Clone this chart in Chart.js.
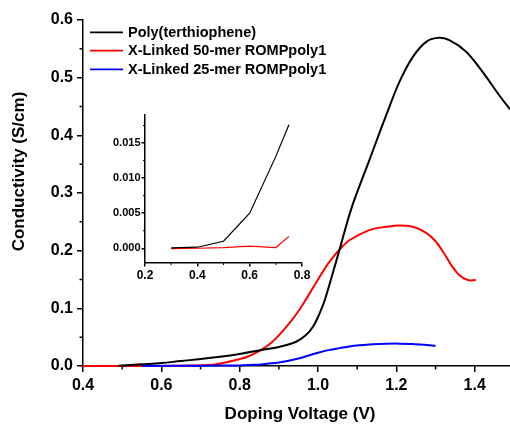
<!DOCTYPE html>
<html>
<head>
<meta charset="utf-8">
<script src="https://cdn.jsdelivr.net/npm/chart.js@4"></script>
<style>
html, body { margin: 0; padding: 0; background: #fff; }
#wrap { position: relative; width: 510px; height: 425px; }
#wrap canvas { position: absolute; left: 0; top: 0; }
</style>
</head>
<body>
<div id="wrap">
    <canvas id="principal" width="510" height="425"></canvas>
    <canvas id="detalhe" width="510" height="425"></canvas>
</div>
<script>
// series (main plot)
const nomes = ["Poly(terthiophene)", "X-Linked 50-mer ROMPpoly1", "X-Linked 25-mer ROMPpoly1"];
const cores = ["#000000", "#ff0000", "#0000ff"];

const polyV = [0.49, 0.55, 0.60, 0.65, 0.70, 0.75, 0.80, 0.855, 0.90, 0.944, 0.97, 0.987, 1.00, 1.017, 1.04, 1.055, 1.085, 1.131, 1.174, 1.208, 1.242, 1.276, 1.305, 1.335, 1.378, 1.42, 1.462, 1.49];
const polyC = [0.0005, 0.003, 0.005, 0.0087, 0.012, 0.016, 0.021, 0.0277, 0.033, 0.042, 0.054, 0.068, 0.085, 0.114, 0.167, 0.202, 0.273, 0.357, 0.435, 0.493, 0.536, 0.562, 0.569, 0.565, 0.545, 0.510, 0.470, 0.445];

const x50V = [0.40, 0.55, 0.65, 0.73, 0.77, 0.80, 0.82, 0.855, 0.88, 0.90, 0.93, 0.953, 0.975, 1.00, 1.02, 1.04, 1.055, 1.08, 1.131, 1.174, 1.208, 1.242, 1.276, 1.301, 1.322, 1.343, 1.36, 1.382, 1.403];
const x50C = [0, 0, 0.0005, 0.002, 0.007, 0.012, 0.016, 0.028, 0.040, 0.053, 0.077, 0.098, 0.122, 0.150, 0.172, 0.190, 0.202, 0.218, 0.2357, 0.2414, 0.2438, 0.2414, 0.231, 0.2155, 0.195, 0.172, 0.158, 0.149, 0.149];

const x25V = [0.55, 0.70, 0.80, 0.84, 0.87, 0.90, 0.95, 1.00, 1.03, 1.055, 1.08, 1.106, 1.14, 1.174, 1.21, 1.242, 1.27, 1.30];
const x25C = [0, 0.0005, 0.001, 0.002, 0.004, 0.006, 0.013, 0.023, 0.028, 0.031, 0.034, 0.036, 0.0378, 0.0387, 0.0388, 0.038, 0.037, 0.035];

// inset
const detalheV = [0.3, 0.4, 0.5, 0.6, 0.7, 0.75];
const detalhePoly = [0.00005, 0.00015, 0.001, 0.005, 0.0131, 0.0176];
const detalheX50 = [-0.00005, 0.0, 0.0001, 0.0003, 0.0001, 0.0017];

// ticks
const xTicks = [0.4, 0.6, 0.8, 1.0, 1.2, 1.4];
const xMinor = [0.5, 0.7, 0.9, 1.1, 1.3];
const yTicks = [0.0, 0.1, 0.2, 0.3, 0.4, 0.5, 0.6];
const yMinor = [0.05, 0.15, 0.25, 0.35, 0.45, 0.55];
const dxTicks = [0.2, 0.4, 0.6, 0.8];
const dxMinor = [0.3, 0.5, 0.7];
const dyTicks = [0.000, 0.005, 0.010, 0.015];
const dyMinor = [0.0025, 0.0075, 0.0125, 0.0175];

const FONTE = '"Liberation Sans", Arial, sans-serif';
Chart.defaults.font.family = FONTE;
Chart.defaults.font.weight = "bold";
Chart.defaults.color = "#000";

const pontos = (vs, cs) => vs.map((v, i) => ({ x: v, y: cs[i] }));

const menoresPlugin = {
    id: "menores",
    beforeDatasetsDraw(chart, args, opts) {
        const { ctx, chartArea, scales } = chart;
        ctx.save();
        ctx.strokeStyle = "#000";
        ctx.lineWidth = opts.lw;
        ctx.beginPath();
        opts.x.forEach(v => {
            const x = scales.x.getPixelForValue(v);
            ctx.moveTo(x, chartArea.bottom);
            ctx.lineTo(x, chartArea.bottom + opts.len);
        });
        opts.y.forEach(v => {
            const y = scales.y.getPixelForValue(v);
            ctx.moveTo(chartArea.left, y);
            ctx.lineTo(chartArea.left - opts.len, y);
        });
        ctx.stroke();
        ctx.restore();
    }
};

const textosPlugin = {
    id: "textos",
    afterDraw(chart) {
        const { ctx } = chart;
        ctx.save();
        ctx.fillStyle = "#000";

        // legend
        ctx.font = "bold 14.5px " + FONTE;
        ctx.textAlign = "left";
        ctx.textBaseline = "middle";
        const linhas = [32.3, 50.7, 69.3];
        nomes.forEach((nome, i) => {
            ctx.strokeStyle = cores[i];
            ctx.lineWidth = 1.8;
            ctx.beginPath();
            ctx.moveTo(90, linhas[i]);
            ctx.lineTo(123, linhas[i]);
            ctx.stroke();
            ctx.fillText(nome, 128, linhas[i] + 0.5);
        });

        // axis titles
        ctx.font = "bold 17px " + FONTE;
        ctx.textAlign = "center";
        ctx.textBaseline = "alphabetic";
        ctx.fillText("Doping Voltage (V)", 300, 419);

        ctx.translate(24, 171.5);
        ctx.rotate(-Math.PI / 2);
        ctx.fillText("Conductivity (S/cm)", 0, 0);
        ctx.restore();
    }
};

function eixo(valores, casas, tam, padTicks, tickLen, largura, altura, min, max) {
    return {
        type: "linear",
        min,
        max,
        afterBuildTicks: s => { s.ticks = valores.map(v => ({ value: v })); },
        afterFit: s => {
            if (largura) s.width = largura;
            if (altura) s.height = altura;
        },
        ticks: {
            autoSkip: false,
            maxRotation: 0,
            padding: padTicks,
            font: { size: tam, weight: "bold" },
            color: "#000",
            callback: v => Number(v).toFixed(casas)
        },
        grid: {
            display: true,
            drawOnChartArea: false,
            drawTicks: true,
            tickLength: tickLen,
            color: "#000",
            lineWidth: 1.5,
            z: -2
        },
        border: { display: true, color: "#000", width: 1.5, z: -1 }
    };
}

new Chart(document.getElementById("principal").getContext("2d"), {
    type: "line",
    data: {
        datasets: [
            { label: nomes[0], data: pontos(polyV, polyC), borderColor: cores[0], order: 1 },
            { label: nomes[1], data: pontos(x50V, x50C), borderColor: cores[1], order: 2 },
            { label: nomes[2], data: pontos(x25V, x25C), borderColor: cores[2], order: 0 }
        ].map(d => Object.assign(d, {
            borderWidth: 2,
            pointRadius: 0,
            fill: false,
            tension: 0.35,
            clip: false
        }))
    },
    plugins: [menoresPlugin, textosPlugin],
    options: {
        responsive: false,
        animation: false,
        devicePixelRatio: 1,
        layout: { padding: { top: 20, right: 0, bottom: 0, left: 0 } },
        plugins: {
            legend: { display: false },
            tooltip: { enabled: false },
            menores: { x: xMinor, y: yMinor, len: 3.5, lw: 1.5 }
        },
        scales: {
            x: eixo(xTicks, 1, 16, 4, 6, 0, 59, 0.4, 1.49),
            y: eixo(yTicks, 1, 16, 4, 6, 83, 0, 0, 0.6)
        }
    }
});

new Chart(document.getElementById("detalhe").getContext("2d"), {
    type: "line",
    data: {
        datasets: [
            { label: nomes[0], data: pontos(detalheV, detalhePoly), borderColor: cores[0] },
            { label: nomes[1], data: pontos(detalheV, detalheX50), borderColor: cores[1] }
        ].map(d => Object.assign(d, {
            borderWidth: 1.2,
            pointRadius: 0,
            fill: false,
            tension: 0
        }))
    },
    plugins: [menoresPlugin],
    options: {
        responsive: false,
        animation: false,
        devicePixelRatio: 1,
        layout: { padding: { top: 115, right: 208, bottom: 0, left: 0 } },
        plugins: {
            legend: { display: false },
            tooltip: { enabled: false },
            menores: { x: dxMinor, y: dyMinor, len: 2, lw: 1 }
        },
        scales: {
            x: eixo(dxTicks, 1, 12, 2, 3.5, 0, 162, 0.2, 0.8),
            y: eixo(dyTicks, 3, 11, 1, 3.5, 145, 0, -0.0021, 0.019)
        }
    }
});
</script>
</body>
</html>
